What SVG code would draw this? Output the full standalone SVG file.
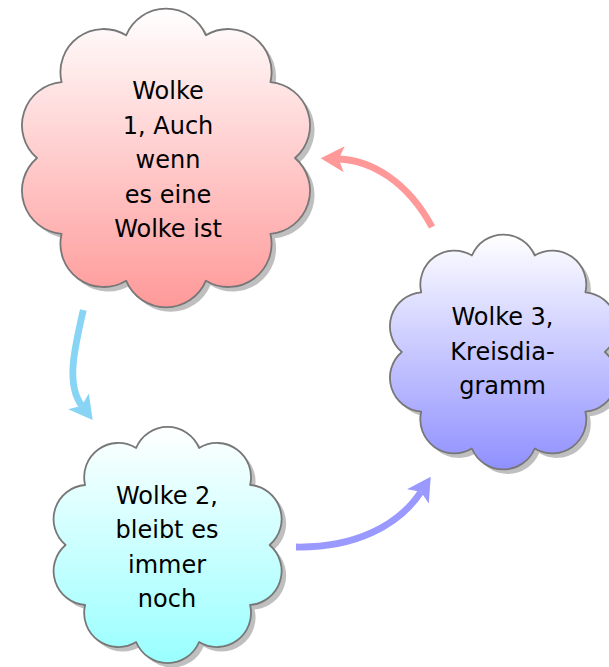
<svg xmlns="http://www.w3.org/2000/svg" xmlns:xlink="http://www.w3.org/1999/xlink" width="609" height="667" viewBox="0 0 609 667">
<style>
.cloud{stroke:#777777;stroke-width:1.8;stroke-linejoin:round}
.shadow{fill:#bfbfbf;stroke:none}
.lbl{font-family:"DejaVu Sans",sans-serif;font-size:24px;fill:#000;text-anchor:middle}
.arr{fill:none;stroke-width:6.8;stroke-linecap:butt}
</style>
<defs>
<linearGradient id="gRed" x1="0" y1="0" x2="0" y2="1"><stop offset="0" stop-color="#ffffff"/><stop offset="1" stop-color="#ff9999"/></linearGradient>
<linearGradient id="gCyan" x1="0" y1="0" x2="0" y2="1"><stop offset="0" stop-color="#ffffff"/><stop offset="1" stop-color="#99ffff"/></linearGradient>
<linearGradient id="gBlue" x1="0" y1="0" x2="0" y2="1"><stop offset="0" stop-color="#ffffff"/><stop offset="1" stop-color="#9090ff"/></linearGradient>
<path id="c1" d="M 295 158 A 43.2 43.2 0 0 0 270.4 82.2 A 43.2 43.2 0 0 0 205.9 35.3 A 43.2 43.2 0 0 0 126.1 35.3 A 43.2 43.2 0 0 0 61.6 82.2 A 43.2 43.2 0 0 0 37 158 A 43.2 43.2 0 0 0 61.6 233.8 A 43.2 43.2 0 0 0 126.1 280.7 A 43.2 43.2 0 0 0 205.9 280.7 A 43.2 43.2 0 0 0 270.4 233.8 A 43.2 43.2 0 0 0 295 158 Z"/>
<path id="c2" d="M 269.6 545 A 34.1 34.1 0 0 0 250.1 485 A 34.1 34.1 0 0 0 199.1 448 A 34.1 34.1 0 0 0 136.1 448 A 34.1 34.1 0 0 0 85.1 485 A 34.1 34.1 0 0 0 65.6 545 A 34.1 34.1 0 0 0 85.1 605 A 34.1 34.1 0 0 0 136.1 642 A 34.1 34.1 0 0 0 199.1 642 A 34.1 34.1 0 0 0 250.1 605 A 34.1 34.1 0 0 0 269.6 545 Z"/>
<path id="c3" d="M 604.8 352 A 34 34 0 0 0 585.4 292.3 A 34 34 0 0 0 534.7 255.5 A 34 34 0 0 0 471.9 255.5 A 34 34 0 0 0 421.2 292.3 A 34 34 0 0 0 401.8 352 A 34 34 0 0 0 421.2 411.7 A 34 34 0 0 0 471.9 448.5 A 34 34 0 0 0 534.7 448.5 A 34 34 0 0 0 585.4 411.7 A 34 34 0 0 0 604.8 352 Z"/>
<marker id="mCyan" markerUnits="userSpaceOnUse" orient="auto" overflow="visible" markerWidth="1" markerHeight="1" refX="0" refY="0"><path d="M 18 0 L -5.5 -13 L 0 0 L -5.5 13 Z" fill="#88d4f4"/></marker>
<marker id="mBlue" markerUnits="userSpaceOnUse" orient="auto" overflow="visible" markerWidth="1" markerHeight="1" refX="0" refY="0"><path d="M 18 0 L -5.5 -13 L 0 0 L -5.5 13 Z" fill="#9999ff"/></marker>
<marker id="mRed" markerUnits="userSpaceOnUse" orient="auto" overflow="visible" markerWidth="1" markerHeight="1" refX="0" refY="0"><path d="M 18 0 L -5.5 -13 L 0 0 L -5.5 13 Z" fill="#ff9999"/></marker>
</defs>
<rect width="609" height="667" fill="#ffffff"/>
<g id="connectors">
<path class="arr" stroke="#88d4f4" marker-end="url(#mCyan)" d="M 83.3 310 C 74 350, 66 385, 81.8 405.7"/>
<path class="arr" stroke="#9999ff" marker-end="url(#mBlue)" d="M 296 547 C 355 548, 399 525.4, 420.9 491.8"/>
<path class="arr" stroke="#ff9999" marker-end="url(#mRed)" d="M 432 227 C 407.7 181.9, 371.7 160.3, 338.7 159"/>
</g>
<g id="wolke1">
<use xlink:href="#c1" href="#c1" class="shadow" transform="translate(4.5,4.5)"/>
<use xlink:href="#c1" href="#c1" class="cloud" fill="url(#gRed)"/>
<text class="lbl"><tspan x="168" y="99">Wolke</tspan><tspan x="168" y="133.5">1, Auch</tspan><tspan x="168" y="168">wenn</tspan><tspan x="168" y="202.5">es eine</tspan><tspan x="168" y="237">Wolke ist</tspan></text>
</g>
<g id="wolke2">
<use xlink:href="#c2" href="#c2" class="shadow" transform="translate(4.5,4.5)"/>
<use xlink:href="#c2" href="#c2" class="cloud" fill="url(#gCyan)"/>
<text class="lbl"><tspan x="167" y="503.5">Wolke 2,</tspan><tspan x="167" y="538">bleibt es</tspan><tspan x="167" y="572.5">immer</tspan><tspan x="167" y="607">noch</tspan></text>
</g>
<g id="wolke3">
<use xlink:href="#c3" href="#c3" class="shadow" transform="translate(4.5,4.5)"/>
<use xlink:href="#c3" href="#c3" class="cloud" fill="url(#gBlue)"/>
<text class="lbl"><tspan x="502.5" y="325">Wolke 3,</tspan><tspan x="502.5" y="359.5">Kreisdia-</tspan><tspan x="502.5" y="394">gramm</tspan></text>
</g>
</svg>
